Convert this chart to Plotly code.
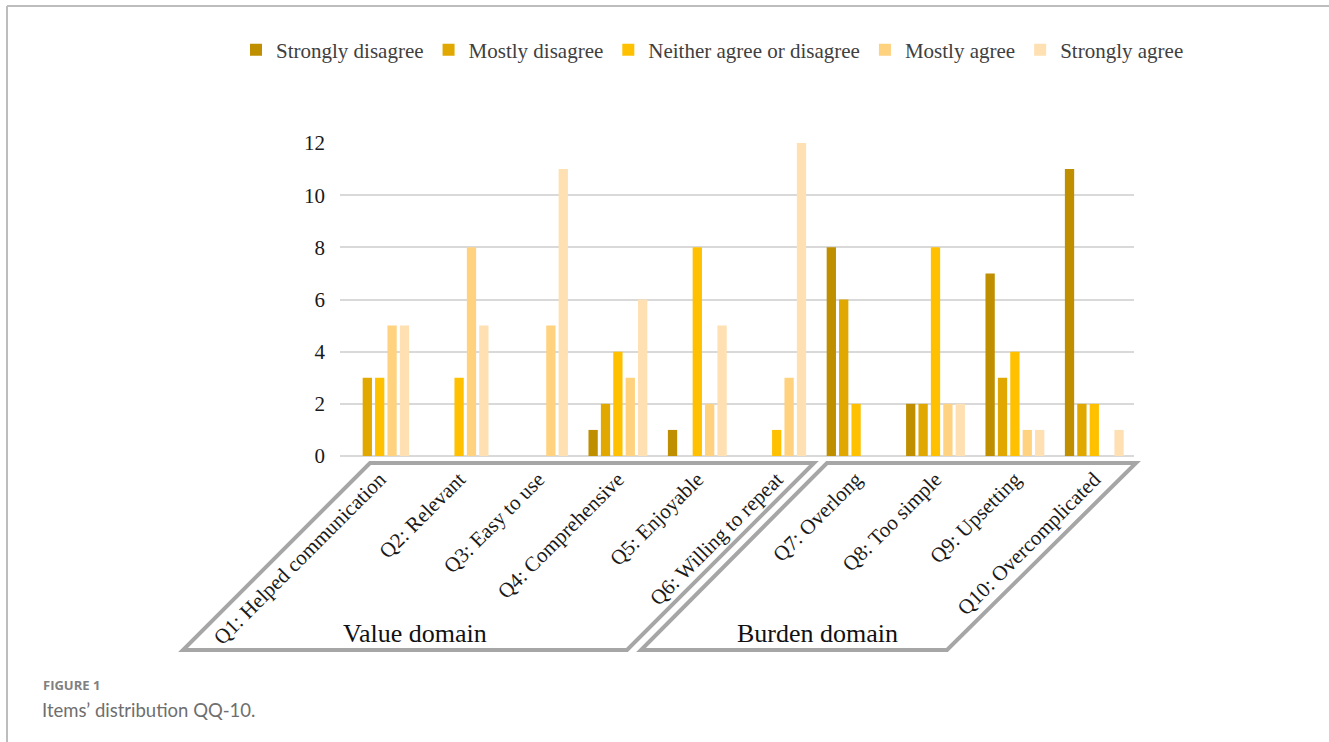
import plotly.graph_objects as go

categories = ["Q1: Helped communication", "Q2: Relevant", "Q3: Easy to use",
              "Q4: Comprehensive", "Q5: Enjoyable", "Q6: Willing to repeat",
              "Q7: Overlong", "Q8: Too simple", "Q9: Upsetting", "Q10: Overcomplicated"]
series_names = ["Strongly disagree", "Mostly disagree", "Neither agree or disagree",
                "Mostly agree", "Strongly agree"]
strongly_disagree = [0, 0, 0, 1, 1, 0, 8, 2, 7, 11]
mostly_disagree = [3, 0, 0, 2, 0, 0, 6, 2, 3, 2]
neither = [3, 3, 0, 4, 8, 1, 2, 8, 4, 2]
mostly_agree = [5, 8, 5, 3, 2, 3, 0, 2, 1, 0]
strongly_agree = [5, 5, 11, 6, 5, 12, 0, 2, 1, 1]
series_values = [strongly_disagree, mostly_disagree, neither, mostly_agree, strongly_agree]
colors = ["#BF8F00", "#E0A800", "#FFC000", "#FFD280", "#FFE0B2"]
y_ticks = [0, 2, 4, 6, 8, 10, 12]
domain_labels = ["Value domain", "Burden domain"]

W, H = 1329, 742
L, R, T, B = 340, 195, 143, 286
PW, PH = W - L - R, H - T - B


def px(x):
    return (x - L) / PW


def py(y):
    return (H - B - y) / PH


fig = go.Figure()
for name, vals, col in zip(series_names, series_values, colors):
    fig.add_trace(go.Bar(x=categories, y=vals, name=name,
                         marker=dict(color=col, line=dict(width=0))))

serif = "Liberation Serif, Times New Roman, serif"
fig.update_layout(
    width=W, height=H,
    margin=dict(l=L, r=R, t=T, b=B),
    paper_bgcolor="white", plot_bgcolor="white",
    barmode="group", bargap=0.22, bargroupgap=0.25,
    font=dict(family=serif, color="#222222"),
    legend=dict(orientation="h", x=px(236), y=py(50), xanchor="left", yanchor="middle",
                font=dict(family=serif, size=21, color="#404040"),
                traceorder="normal", itemwidth=30, bgcolor="rgba(0,0,0,0)"),
    xaxis=dict(type="category", tickangle=-45, showgrid=False, showline=False,
               ticks="", tickfont=dict(family=serif, size=21, color="#1a1a1a"),
               ticklabelstandoff=6),
    yaxis=dict(range=[0, 12], tickvals=y_ticks, showgrid=True, gridcolor="#D9D9D9",
               gridwidth=2, zeroline=True, zerolinecolor="#D9D9D9", zerolinewidth=2,
               showline=False, ticks="", ticklabelstandoff=14,
               tickfont=dict(family=serif, size=21, color="#1a1a1a")),
)

# parallelogram domain frames
frames = [
    [(370, 463), (814, 463), (627, 650), (183, 650)],
    [(827, 463), (1136, 463), (947, 650), (641, 650)],
]
for pts in frames:
    path = "M " + " L ".join(f"{px(x)},{py(y)}" for x, y in pts) + " Z"
    fig.add_shape(type="path", path=path, xref="paper", yref="paper",
                  line=dict(color="#A6A6A6", width=4), fillcolor="rgba(0,0,0,0)", layer="below")

for label, cx in zip(domain_labels, [415, 817]):
    fig.add_annotation(text=label, x=px(cx), y=py(633), xref="paper", yref="paper",
                       showarrow=False, xanchor="center", yanchor="middle",
                       font=dict(family=serif, size=26, color="#111111"))

# outer frame lines
fig.add_shape(type="line", xref="paper", yref="paper", x0=px(7), x1=px(W), y0=py(6), y1=py(6),
              line=dict(color="#BDBDBD", width=2))
fig.add_shape(type="line", xref="paper", yref="paper", x0=px(7), x1=px(7), y0=py(6), y1=py(H),
              line=dict(color="#BDBDBD", width=2))

# caption
fig.add_annotation(text="<b>FIGURE 1</b>", x=px(41), y=py(685), xref="paper", yref="paper",
                   showarrow=False, xanchor="left", yanchor="middle",
                   font=dict(family="Open Sans, Lato, sans-serif", size=13, color="#808080"))
fig.add_annotation(text="Items\u2019 distribution QQ-10.", x=px(40), y=py(710), xref="paper",
                   yref="paper", showarrow=False, xanchor="left", yanchor="middle",
                   font=dict(family="Lato, Open Sans, sans-serif", size=18.5, color="#6e6e6e"))

fig.write_html("out.html")
